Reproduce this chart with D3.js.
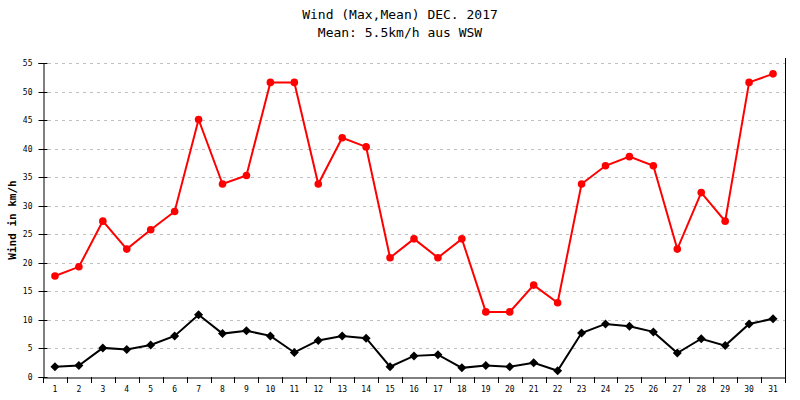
<!DOCTYPE html>
<html><head><meta charset="utf-8">
<script src="https://cdn.jsdelivr.net/npm/d3@7"></script>
<style>body{margin:0;background:#fff}svg{display:block}</style>
</head><body>
<svg id="c" width="800" height="400"></svg>
<script>
const days = d3.range(1, 32).map(String);
const maxWind = [17.7,19.3,27.3,22.4,25.8,29.0,45.1,33.8,35.3,51.6,51.6,33.8,41.9,40.3,20.9,24.2,20.9,24.2,11.4,11.4,16.1,13.0,33.8,37.0,38.6,37.0,22.4,32.3,27.3,51.6,53.1];
const meanWind = [1.8,2.0,5.1,4.8,5.6,7.2,10.9,7.6,8.1,7.2,4.3,6.4,7.2,6.8,1.8,3.7,3.9,1.6,2.0,1.8,2.5,1.1,7.7,9.3,8.9,7.9,4.2,6.7,5.5,9.3,10.2];
const yTicks = [0,5,10,15,20,25,30,35,40,45,50,55];
const title1 = "Wind (Max,Mean) DEC. 2017";
const title2 = "Mean: 5.5km/h aus WSW";
const yLabel = "Wind in km/h";

const svg = d3.select("#c");
const L = 43, R = 785, T = 63, B = 377;
const font = "'DejaVu Sans Mono', monospace";
const x = d3.scaleBand().domain(days).range([L, R]);
const y = d3.scaleLinear().domain([0, 55]).range([B, T]);

// grid
svg.append("g").selectAll("line").data(yTicks.filter(d => d > 0)).join("line")
  .attr("x1", L + 5).attr("x2", R).attr("y1", d => Math.round(y(d)) + 0.5).attr("y2", d => Math.round(y(d)) + 0.5)
  .attr("stroke", "#c0c0c0").attr("stroke-dasharray", "3,4");

// y axis
const ya = svg.append("g").attr("transform", `translate(${L + 0.5},0)`)
  .call(d3.axisLeft(y).tickValues(yTicks).tickSize(5).tickPadding(6));
ya.select(".domain").attr("stroke", "#000");
ya.selectAll(".tick line").attr("stroke", "#000").attr("x2", 4).attr("x1", -5);
ya.selectAll(".tick text").attr("font-family", font).attr("font-size", 8).attr("fill", "#000");
ya.selectAll(".tick").attr("transform", d => `translate(0,${Math.round(y(d)) + 0.5})`);

// x axis
const xa = svg.append("g").attr("transform", `translate(0,${B + 0.5})`)
  .call(d3.axisBottom(x).tickSize(0).tickPadding(9));
xa.select(".domain").attr("stroke", "#000");
xa.selectAll(".tick text").attr("font-family", font).attr("font-size", 8).attr("fill", "#000");
svg.append("g").selectAll("line").data(days).join("line")
  .attr("x1", d => Math.round(x(d)) + 0.5).attr("x2", d => Math.round(x(d)) + 0.5)
  .attr("y1", B).attr("y2", B + 6).attr("stroke", "#000");
svg.append("line").attr("x1", R + 0.5).attr("x2", R + 0.5).attr("y1", T - 5).attr("y2", B + 6).attr("stroke", "#000");

const cx = d => x(d) + x.bandwidth() / 2;
const line = d3.line().x((d, i) => cx(days[i])).y(d => y(d));

svg.append("path").datum(maxWind).attr("d", line).attr("fill", "none").attr("stroke", "#ff0000").attr("stroke-width", 2);
svg.append("g").selectAll("circle").data(maxWind).join("circle")
  .attr("cx", (d, i) => cx(days[i])).attr("cy", d => y(d)).attr("r", 3.8).attr("fill", "#ff0000");

svg.append("path").datum(meanWind).attr("d", line).attr("fill", "none").attr("stroke", "#000").attr("stroke-width", 2);
const diamond = "M0,-4.5L4.5,0L0,4.5L-4.5,0Z";
svg.append("g").selectAll("path").data(meanWind).join("path")
  .attr("d", diamond).attr("transform", (d, i) => `translate(${cx(days[i])},${y(d)})`).attr("fill", "#000");

// titles
svg.append("text").attr("x", 400).attr("y", 19).attr("text-anchor", "middle")
  .attr("font-family", font).attr("font-size", 13).text(title1);
svg.append("text").attr("x", 400).attr("y", 37).attr("text-anchor", "middle")
  .attr("font-family", font).attr("font-size", 13).text(title2);
svg.append("text").attr("transform", `translate(16,${(T + B) / 2}) rotate(-90)`).attr("text-anchor", "middle")
  .attr("font-family", font).attr("font-size", 11).attr("font-weight", "bold").text(yLabel);
</script>
</body></html>
